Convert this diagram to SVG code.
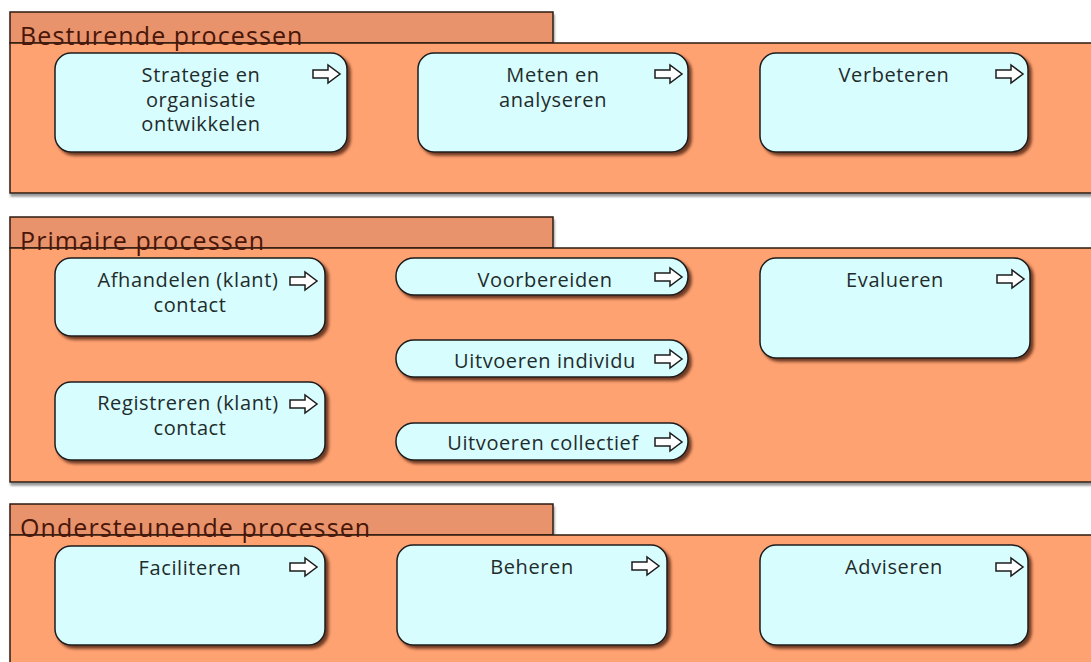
<svg xmlns="http://www.w3.org/2000/svg" width="1091" height="662" viewBox="0 0 1091 662">
  <style>
    .tab { fill: #E8936C; stroke: #2E1A10; stroke-width: 1.5; }
    .body { fill: #FFA272; stroke: #2E1A10; stroke-width: 1.5; }
    .gtitle { font-family: "Open Sans", "Noto Sans", sans-serif; font-size: 25px; letter-spacing: 1.1px; fill: #4A1608; }
    .node { fill: #D8FDFE; stroke: #1C1C1C; stroke-width: 1.5; }
    .label { font-family: "Open Sans", "Noto Sans", sans-serif; font-size: 20px; letter-spacing: 0.6px; fill: #1E2C2C; text-anchor: middle; }
    .arrow { fill: #FFFFFF; stroke: #1C1C1C; stroke-width: 1.5; stroke-linejoin: miter; }
  </style>
  <defs>
    <filter id="nodeShadow" x="-10%" y="-10%" width="125%" height="135%">
      <feDropShadow dx="3" dy="3" stdDeviation="1.6" flood-color="#4A2410" flood-opacity="0.8"/>
    </filter>
    <filter id="groupShadow" x="-5%" y="-5%" width="115%" height="115%">
      <feDropShadow dx="1" dy="3" stdDeviation="1" flood-color="#6E6E6E" flood-opacity="0.7"/>
    </filter>
    <!-- process icon: outlined right arrow, 27 x 18 -->
    <path id="procArrow" class="arrow" d="M0,5 H15 V0 L27,9 L15,18 V13 H0 Z"/>
  </defs>

  <rect width="1091" height="662" fill="#FFFFFF"/>

  <!-- Group: Besturende processen -->
  <g id="grp-besturend">
    <g filter="url(#groupShadow)">
      <rect class="tab" x="10" y="12" width="543" height="31"/>
      <rect class="body" x="10" y="43" width="1090" height="150"/>
    </g>
    <text class="gtitle" x="20" y="45">Besturende processen</text>
  </g>

  <!-- Group: Primaire processen -->
  <g id="grp-primair">
    <g filter="url(#groupShadow)">
      <rect class="tab" x="10" y="217" width="543" height="31"/>
      <rect class="body" x="10" y="248" width="1090" height="234"/>
    </g>
    <text class="gtitle" x="20" y="250">Primaire processen</text>
  </g>

  <!-- Group: Ondersteunende processen -->
  <g id="grp-ondersteunend">
    <g filter="url(#groupShadow)">
      <rect class="tab" x="10" y="504" width="543" height="31"/>
      <rect class="body" x="10" y="535" width="1090" height="140"/>
    </g>
    <text class="gtitle" x="20" y="537">Ondersteunende processen</text>
  </g>

  <!-- Besturende processen -->
  <g id="node-strategie">
    <rect class="node" x="55" y="53" width="292" height="99" rx="16" filter="url(#nodeShadow)"/>
    <text class="label"><tspan x="201" y="82">Strategie en</tspan><tspan x="201" y="106.5">organisatie</tspan><tspan x="201" y="131">ontwikkelen</tspan></text>
    <use href="#procArrow" x="313" y="65"/>
  </g>
  <g id="node-meten">
    <rect class="node" x="418" y="53" width="270" height="99" rx="16" filter="url(#nodeShadow)"/>
    <text class="label"><tspan x="553" y="82">Meten en</tspan><tspan x="553" y="106.5">analyseren</tspan></text>
    <use href="#procArrow" x="655" y="65"/>
  </g>
  <g id="node-verbeteren">
    <rect class="node" x="760" y="53" width="268" height="99" rx="16" filter="url(#nodeShadow)"/>
    <text class="label" x="894" y="82">Verbeteren</text>
    <use href="#procArrow" x="996" y="65"/>
  </g>

  <!-- Primaire processen -->
  <g id="node-afhandelen">
    <rect class="node" x="55" y="258" width="270" height="78" rx="16" filter="url(#nodeShadow)"/>
    <text class="label"><tspan x="188" y="287">Afhandelen (klant)</tspan><tspan x="190" y="312">contact</tspan></text>
    <use href="#procArrow" x="290" y="272"/>
  </g>
  <g id="node-registreren">
    <rect class="node" x="55" y="382" width="270" height="78" rx="16" filter="url(#nodeShadow)"/>
    <text class="label"><tspan x="188" y="410">Registreren (klant)</tspan><tspan x="190" y="435">contact</tspan></text>
    <use href="#procArrow" x="290" y="395"/>
  </g>
  <g id="node-voorbereiden">
    <rect class="node" x="396" y="258" width="292" height="37" rx="18" filter="url(#nodeShadow)"/>
    <text class="label" x="545" y="287">Voorbereiden</text>
    <use href="#procArrow" x="655" y="268"/>
  </g>
  <g id="node-uitvoeren-individu">
    <rect class="node" x="396" y="340" width="292" height="37" rx="18" filter="url(#nodeShadow)"/>
    <text class="label" x="545" y="368">Uitvoeren individu</text>
    <use href="#procArrow" x="655" y="350"/>
  </g>
  <g id="node-uitvoeren-collectief">
    <rect class="node" x="396" y="423" width="292" height="37" rx="18" filter="url(#nodeShadow)"/>
    <text class="label" x="543" y="450">Uitvoeren collectief</text>
    <use href="#procArrow" x="655" y="433"/>
  </g>
  <g id="node-evalueren">
    <rect class="node" x="760" y="258" width="270" height="100" rx="16" filter="url(#nodeShadow)"/>
    <text class="label" x="895" y="287">Evalueren</text>
    <use href="#procArrow" x="997" y="270"/>
  </g>

  <!-- Ondersteunende processen -->
  <g id="node-faciliteren">
    <rect class="node" x="55" y="546" width="270" height="99" rx="16" filter="url(#nodeShadow)"/>
    <text class="label" x="190" y="575">Faciliteren</text>
    <use href="#procArrow" x="290" y="558"/>
  </g>
  <g id="node-beheren">
    <rect class="node" x="397" y="545" width="270" height="100" rx="16" filter="url(#nodeShadow)"/>
    <text class="label" x="532" y="574">Beheren</text>
    <use href="#procArrow" x="632" y="557"/>
  </g>
  <g id="node-adviseren">
    <rect class="node" x="760" y="545" width="268" height="100" rx="16" filter="url(#nodeShadow)"/>
    <text class="label" x="894" y="574">Adviseren</text>
    <use href="#procArrow" x="996" y="558"/>
  </g>

  <!-- no connectors between the processes -->
  <g id="connectors"/>
</svg>
